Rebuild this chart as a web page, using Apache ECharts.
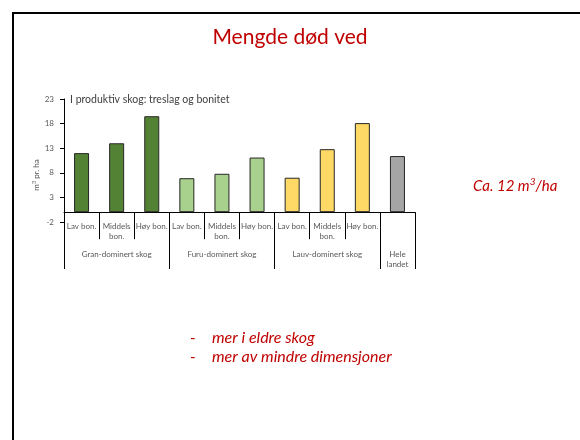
<!DOCTYPE html>
<html>
<head>
<meta charset="utf-8">
<script src="https://cdn.jsdelivr.net/npm/echarts@6/dist/echarts.min.js"></script>
<style>
  body { margin: 0; background: #fff; }
  #main { position: absolute; left: 0; top: 0; width: 580px; height: 440px; }
  #frame {
    position: absolute; left: 12px; top: 12px; width: 570px; height: 426px;
    border-top: 2px solid #000; border-left: 2px solid #000; border-bottom: 1px solid #bbb;
    pointer-events: none;
  }
</style>
</head>
<body>
<div id="main"></div>
<div id="frame"></div>
<script>
  // kategorier og verdier (m3 pr. ha)
  const categories = ['Lav bon.', 'Middels\nbon.', 'Høy bon.', 'Lav bon.', 'Middels\nbon.', 'Høy bon.',
    'Lav bon.', 'Middels\nbon.', 'Høy bon.', '']
  const groupLabels = ['', 'Gran-dominert skog', '', '', 'Furu-dominert skog', '', '',
    'Lauv-dominert skog', '', 'Hele\nlandet']
  const groupStarts = [0, 3, 6, 9]
  const values = [12.0, 14.0, 19.5, 6.9, 7.8, 11.1, 7.0, 12.8, 18.1, 11.4]
  const barColors = ['#548235', '#548235', '#548235', '#a9d18e', '#a9d18e', '#a9d18e',
    '#ffd966', '#ffd966', '#ffd966', '#a5a5a5']
  const yTicks = {min: -2, max: 23, interval: 5}

  const font = 'Lato, "Open Sans", sans-serif'
  const red = '#c00000'
  const labelStyle = {
    interval: 0, verticalAlign: 'top',
    fontFamily: font, fontSize: 8, lineHeight: 10, color: '#595959'
  }

  let chart = echarts.init(document.getElementById('main'))

  chart.setOption({
    animation: false,
    title: {
      text: 'Mengde død ved',
      left: 'center',
      top: 22,
      textStyle: {fontFamily: font, fontSize: 21, fontWeight: 'normal', color: red}
    },
    grid: {left: 64, top: 99, width: 351, height: 123},
    xAxis: [
      // aksen ved 0 med skillestreker
      {
        type: 'category',
        data: categories,
        position: 'bottom',
        axisLine: {onZero: true, lineStyle: {color: '#000', width: 1}},
        axisTick: {show: true, interval: 0, length: 27, lineStyle: {color: '#000'}},
        axisLabel: {show: false}
      },
      // bonitet-etiketter
      {
        type: 'category',
        data: categories,
        position: 'bottom',
        axisLine: {show: false, onZero: false},
        axisTick: {show: false},
        axisLabel: Object.assign({margin: -1}, labelStyle)
      },
      // treslag-grupper
      {
        type: 'category',
        data: groupLabels,
        position: 'bottom',
        axisLine: {show: false, onZero: false},
        axisTick: {
          show: true,
          interval: function (i) { return groupStarts.indexOf(i) >= 0 },
          length: 47,
          lineStyle: {color: '#000'}
        },
        axisLabel: Object.assign({margin: 27}, labelStyle)
      }
    ],
    yAxis: {
      type: 'value',
      min: yTicks.min,
      max: yTicks.max,
      interval: yTicks.interval,
      splitLine: {show: false},
      axisLine: {show: true, lineStyle: {color: '#000'}},
      axisTick: {show: true, length: 4, lineStyle: {color: '#000'}},
      axisLabel: {margin: 10, fontFamily: font, fontSize: 8, color: '#595959'}
    },
    series: [
      {
        type: 'bar',
        xAxisIndex: 0,
        barWidth: 15,
        data: values.map((v, i) => ({
          value: v,
          itemStyle: {color: barColors[i], borderColor: '#262626', borderWidth: 1}
        }))
      }
    ],
    graphic: [
      {
        type: 'text', left: 70, top: 94,
        style: {text: 'I produktiv skog: treslag og bonitet', font: '10.5px ' + font, fill: '#404040'}
      },
      {
        type: 'text', x: 36, y: 175, rotation: Math.PI / 2,
        style: {
          text: '{a|m}{s|3}{a| pr. ha}', align: 'center', verticalAlign: 'middle',
          rich: {
            a: {fontFamily: font, fontSize: 8, fill: '#595959'},
            s: {fontFamily: font, fontSize: 5.5, fill: '#595959', padding: [0, 0, 4, 0]}
          }
        }
      },
      {
        type: 'text', x: 473, y: 186,
        style: {
          text: '{a|Ca. 12 m}{s|3}{a|/ha}', verticalAlign: 'middle',
          rich: {
            a: {fontFamily: font, fontSize: 15, fontStyle: 'italic', fill: red},
            s: {fontFamily: font, fontSize: 10, fontStyle: 'italic', fill: red, padding: [0, 0, 8, 0]}
          }
        }
      },
      {type: 'text', x: 190, y: 338, style: {text: '-', font: '15px ' + font, fill: red, verticalAlign: 'middle'}},
      {type: 'text', x: 190, y: 357, style: {text: '-', font: '15px ' + font, fill: red, verticalAlign: 'middle'}},
      {type: 'text', x: 212, y: 338, style: {text: 'mer i eldre skog', font: 'italic 16px ' + font, fill: red, verticalAlign: 'middle'}},
      {type: 'text', x: 212, y: 357, style: {text: 'mer av mindre dimensjoner', font: 'italic 16px ' + font, fill: red, verticalAlign: 'middle'}}
    ]
  })
</script>
</body>
</html>
